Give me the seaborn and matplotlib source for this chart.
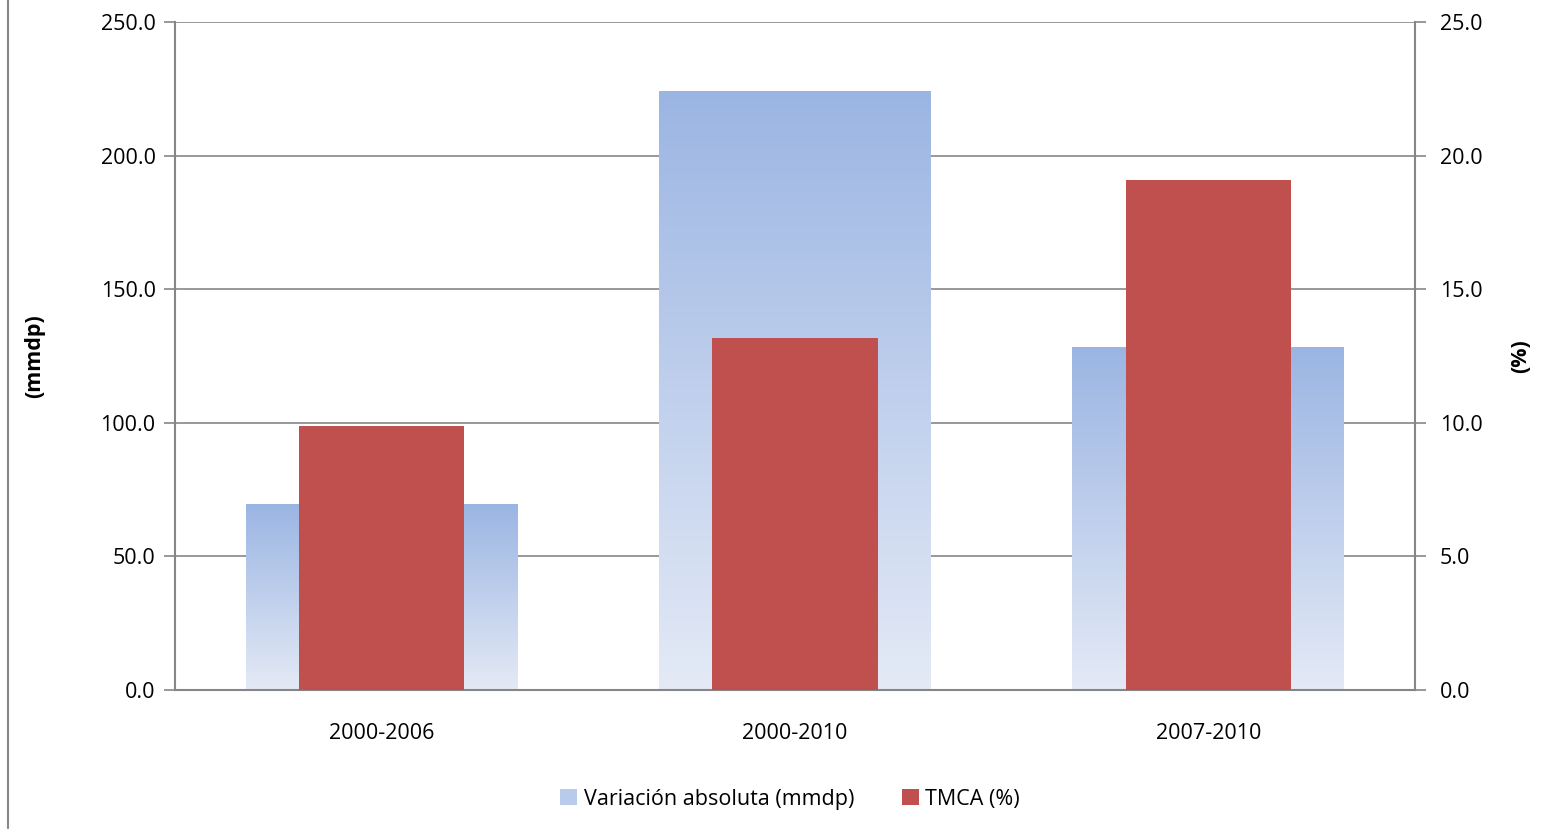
import numpy as np
import pandas as pd
import matplotlib
matplotlib.use("Agg")
import matplotlib.pyplot as plt
import seaborn as sns
from matplotlib.patches import Patch
from matplotlib.lines import Line2D

categories = ["2000-2006", "2000-2010", "2007-2010"]
variacion = [69.4, 223.9, 128.1]
tmca = [9.88, 13.18, 19.1]
left_ticks = [0, 50, 100, 150, 200, 250]
right_ticks = [0, 5, 10, 15, 20, 25]

sns.set_style("white")
plt.rcParams['font.family'] = ['Open Sans', 'DejaVu Sans']
plt.rcParams['text.color'] = 'black'
plt.rcParams['xtick.color'] = 'black'
plt.rcParams['ytick.color'] = 'black'
plt.rcParams['axes.labelcolor'] = 'black'

FS = 15.5
W, H = 1551, 832
fig = plt.figure(figsize=(W / 100, H / 100), dpi=100)
ax = fig.add_axes([175 / W, 1 - 690 / H, 1240 / W, 668 / H])

df = pd.DataFrame({"cat": categories, "var": variacion, "tmca": tmca})
sns.barplot(data=df, x="cat", y="var", ax=ax, width=0.658, color="#9BB5E3",
            saturation=1, zorder=2)

# gradient fill for blue bars
top_c = np.array([0x9B, 0xB5, 0xE3]) / 255
bot_c = np.array([0xE4, 0xEA, 0xF6]) / 255
grad = np.linspace(0, 1, 256)[:, None]
img = top_c[None, None, :] * (1 - grad[:, :, None]) + bot_c[None, None, :] * grad[:, :, None]
for p in list(ax.patches):
    x0, y0 = p.get_x(), p.get_y()
    w, h = p.get_width(), p.get_height()
    ax.imshow(img, extent=[x0, x0 + w, y0, y0 + h], aspect="auto", zorder=2,
              interpolation="bilinear")
    p.set_visible(False)
ax.set_xlim(-0.5, 2.5)
ax.set_ylim(0, 250)

ax2 = ax.twinx()
sns.barplot(data=df, x="cat", y="tmca", ax=ax2, width=0.4, color="#C0504D",
            saturation=1, zorder=3, linewidth=0, edgecolor="none")
ax2.set_ylim(0, 25)
ax2.set_xlim(-0.5, 2.5)

grid_c = "#868686"
ax.set_yticks(left_ticks)
ax.set_yticklabels([f"{v:.1f}" for v in left_ticks], fontsize=FS)
ax2.set_yticks(right_ticks)
ax2.set_yticklabels([f"{v:.1f}" for v in right_ticks], fontsize=FS)
for v in left_ticks[1:]:
    ax.axhline(v, color=grid_c, lw=1.2, zorder=1)

ax.set_xticks([0, 1, 2])
ax.set_xticklabels(categories, fontsize=FS)
ax.tick_params(axis="x", length=0, pad=24)
ax.set_xticks([-0.5, 0.5, 1.5, 2.5], minor=True)
ax.tick_params(axis="x", which="minor", length=8, width=1.2, color=grid_c, direction="out")
ax.tick_params(axis="y", length=8, width=1.2, color=grid_c, direction="out", pad=6)
ax2.tick_params(axis="y", length=8, width=1.2, color=grid_c, direction="out", pad=10)

for a in (ax, ax2):
    for s in a.spines.values():
        s.set_visible(False)
ax.spines["left"].set_visible(True)
ax.spines["bottom"].set_visible(True)
ax2.spines["right"].set_visible(True)
for s in (ax.spines["left"], ax.spines["bottom"], ax2.spines["right"]):
    s.set_color(grid_c)
    s.set_linewidth(1.5)

ax.set_xlabel("")
ax.set_ylabel("(mmdp)", fontsize=FS, fontweight="bold", labelpad=40)
ax2.set_ylabel("(%)", fontsize=FS, fontweight="bold", labelpad=20)

handles = [Patch(facecolor="#B9CBEC", edgecolor="none"),
           Patch(facecolor="#C0504D", edgecolor="none")]
fig.legend(handles, ["Variación absoluta (mmdp)", "TMCA (%)"], loc="center",
           bbox_to_anchor=(790 / W, 1 - 799 / H), ncol=2, frameon=False, fontsize=FS,
           handlelength=0.8, handleheight=0.8, handletextpad=0.3, columnspacing=2.2)

fig.add_artist(Line2D([8 / W, 8 / W], [1 - 828 / H, 1], transform=fig.transFigure,
                      color=grid_c, lw=1.5))

fig.savefig("out.png", dpi=100)
